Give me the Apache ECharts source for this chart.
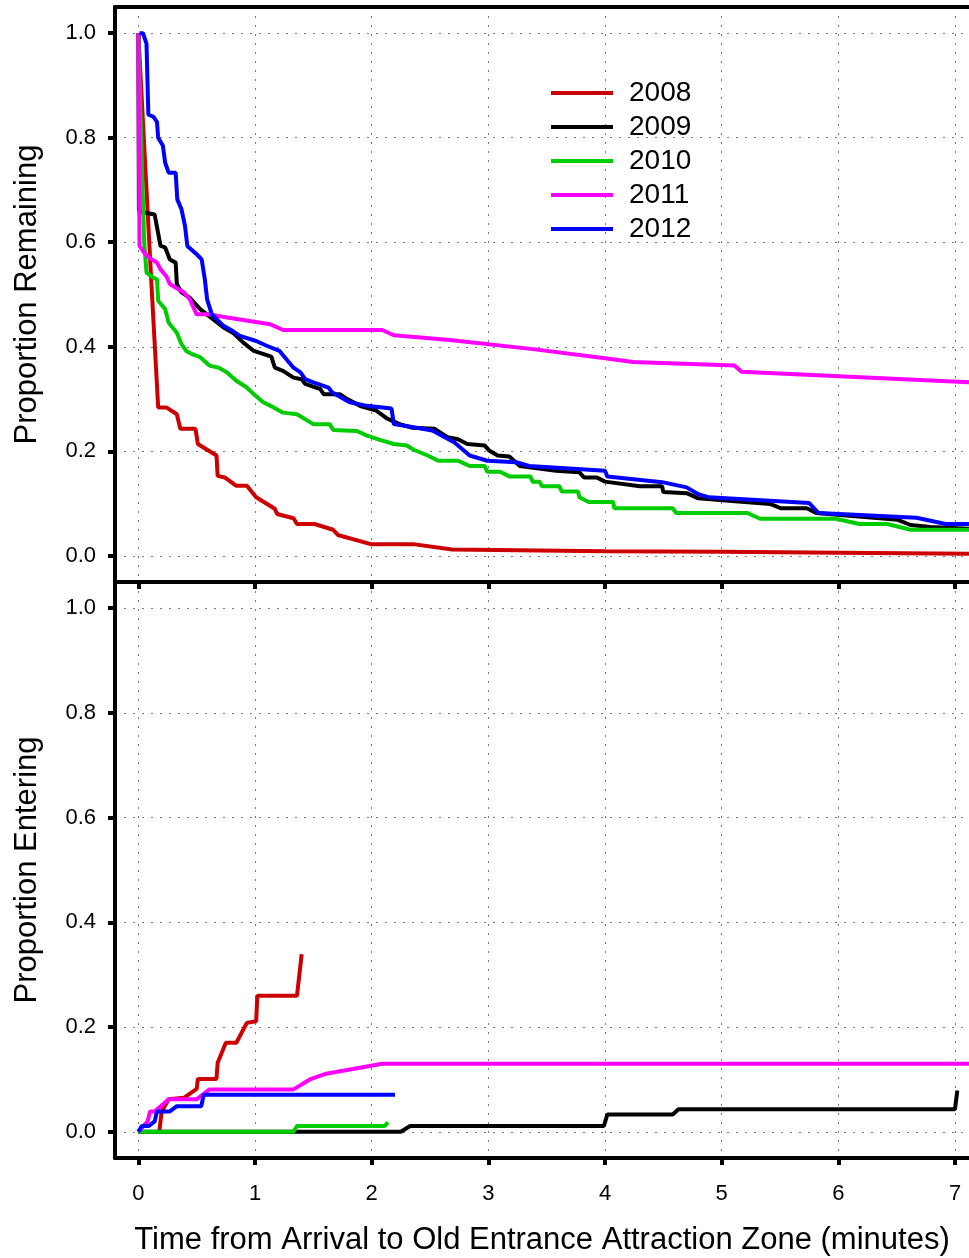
<!DOCTYPE html>
<html>
<head>
<meta charset="utf-8">
<script src="https://cdn.jsdelivr.net/npm/echarts@6/dist/echarts.min.js"></script>
<style>
html,body{margin:0;padding:0;background:#fff;}
#chart{width:969px;height:1258px;}
</style>
</head>
<body>
<div id="chart"></div>
<script>
// ---- data ----
const years = ['2008', '2009', '2010', '2011', '2012'];
const colors = ['#CC0000', '#000000', '#00CC00', '#FF00FF', '#0000FF'];
const xTicks = [0, 1, 2, 3, 4, 5, 6, 7];
const yTicks = [0, 0.2, 0.4, 0.6, 0.8, 1.0];

// Proportion Remaining (top panel)
const remain2008 = [[0,1.0],[0.11,0.53],[0.17,0.284],[0.24,0.284],[0.33,0.271],[0.36,0.243],[0.49,0.243],[0.51,0.214],[0.67,0.192],[0.68,0.153],[0.74,0.150],[0.84,0.134],[0.93,0.134],[1.01,0.112],[1.17,0.09],[1.19,0.080],[1.33,0.072],[1.36,0.061],[1.51,0.061],[1.67,0.05],[1.71,0.040],[2.0,0.022],[2.37,0.022],[2.69,0.012],[4,0.009],[5,0.008],[6,0.006],[7.12,0.004]];
const remain2009 = [[0,1.0],[0.005,0.66],[0.07,0.656],[0.14,0.653],[0.19,0.593],[0.23,0.59],[0.27,0.567],[0.32,0.561],[0.33,0.52],[0.37,0.504],[0.44,0.494],[0.53,0.472],[0.73,0.437],[0.81,0.427],[0.90,0.408],[0.99,0.392],[1.14,0.381],[1.17,0.36],[1.24,0.354],[1.33,0.341],[1.40,0.338],[1.43,0.329],[1.56,0.319],[1.59,0.309],[1.73,0.309],[1.79,0.30],[1.91,0.286],[2.04,0.278],[2.13,0.263],[2.24,0.252],[2.35,0.245],[2.54,0.243],[2.65,0.227],[2.74,0.223],[2.82,0.214],[2.97,0.211],[3.01,0.201],[3.08,0.192],[3.18,0.190],[3.27,0.172],[3.58,0.163],[3.78,0.160],[3.82,0.150],[3.93,0.150],[4.00,0.142],[4.30,0.133],[4.49,0.133],[4.50,0.122],[4.70,0.120],[4.80,0.110],[5.14,0.104],[5.42,0.099],[5.51,0.091],[5.73,0.091],[5.81,0.082],[6.51,0.069],[6.62,0.059],[6.79,0.055],[7.12,0.052]];
const remain2010 = [[0,1.0],[0.03,0.75],[0.05,0.60],[0.07,0.542],[0.13,0.532],[0.16,0.529],[0.17,0.488],[0.23,0.472],[0.26,0.446],[0.33,0.427],[0.37,0.405],[0.41,0.392],[0.46,0.386],[0.53,0.38],[0.61,0.364],[0.69,0.36],[0.76,0.351],[0.84,0.335],[0.93,0.322],[0.99,0.309],[1.07,0.294],[1.16,0.284],[1.24,0.274],[1.36,0.271],[1.50,0.252],[1.64,0.252],[1.67,0.241],[1.87,0.239],[1.96,0.23],[2.07,0.222],[2.19,0.214],[2.30,0.211],[2.36,0.203],[2.48,0.192],[2.57,0.182],[2.74,0.182],[2.84,0.172],[2.97,0.172],[2.99,0.161],[3.10,0.161],[3.18,0.152],[3.36,0.152],[3.38,0.142],[3.44,0.142],[3.46,0.133],[3.61,0.133],[3.63,0.123],[3.77,0.123],[3.78,0.112],[3.86,0.103],[4.07,0.103],[4.08,0.091],[4.58,0.091],[4.61,0.082],[5.22,0.082],[5.33,0.071],[5.98,0.071],[6.18,0.061],[6.42,0.061],[6.62,0.050],[7.12,0.050]];
const remain2011 = [[0,1.0],[0.01,0.593],[0.07,0.574],[0.16,0.561],[0.19,0.548],[0.24,0.535],[0.27,0.52],[0.39,0.504],[0.44,0.491],[0.50,0.462],[0.61,0.462],[0.76,0.456],[1.13,0.443],[1.24,0.432],[2.09,0.432],[2.19,0.422],[2.67,0.413],[3.40,0.395],[4.0,0.378],[4.24,0.371],[5.11,0.364],[5.17,0.352],[7.12,0.332]];
const remain2012 = [[0.01,1.0],[0.04,1.0],[0.07,0.98],[0.086,0.844],[0.13,0.84],[0.16,0.83],[0.17,0.80],[0.21,0.785],[0.23,0.752],[0.26,0.733],[0.32,0.733],[0.334,0.682],[0.37,0.663],[0.40,0.631],[0.42,0.593],[0.50,0.577],[0.543,0.567],[0.57,0.529],[0.59,0.49],[0.63,0.462],[0.73,0.44],[0.81,0.43],[0.87,0.421],[1.01,0.411],[1.10,0.402],[1.21,0.392],[1.33,0.36],[1.39,0.351],[1.43,0.338],[1.50,0.332],[1.63,0.322],[1.66,0.313],[1.81,0.294],[1.96,0.287],[2.17,0.282],[2.19,0.252],[2.36,0.246],[2.52,0.240],[2.71,0.217],[2.84,0.192],[2.99,0.182],[3.24,0.179],[3.35,0.172],[4.00,0.163],[4.02,0.152],[4.49,0.141],[4.70,0.131],[4.80,0.118],[4.89,0.112],[5.75,0.101],[5.83,0.082],[6.67,0.073],[6.92,0.061],[7.12,0.061]];

// Proportion Entering (bottom panel)
const enter2008 = [[0.18,0.0],[0.20,0.039],[0.26,0.062],[0.39,0.065],[0.50,0.082],[0.51,0.101],[0.67,0.101],[0.68,0.132],[0.75,0.170],[0.84,0.170],[0.93,0.208],[1.01,0.211],[1.02,0.260],[1.36,0.260],[1.40,0.339]];
const enter2009 = [[0,0],[2.25,0],[2.33,0.011],[3.99,0.011],[4.02,0.033],[4.58,0.033],[4.63,0.043],[7.0,0.043],[7.02,0.079]];
const enter2010 = [[0,0],[1.33,0],[1.36,0.011],[2.11,0.011],[2.14,0.018]];
const enter2011 = [[0,0],[0.08,0.02],[0.10,0.039],[0.14,0.039],[0.26,0.062],[0.50,0.062],[0.61,0.081],[1.33,0.081],[1.47,0.10],[1.61,0.111],[2.09,0.13],[7.12,0.13]];
const enter2012 = [[0,0],[0.03,0.011],[0.09,0.011],[0.14,0.02],[0.16,0.039],[0.27,0.039],[0.33,0.049],[0.54,0.049],[0.56,0.071],[2.20,0.071]];

const remainData = [remain2008, remain2009, remain2010, remain2011, remain2012];
const enterData = [enter2008, enter2009, enter2010, enter2011, enter2012];

// ---- chart ----
const FONT = 'Liberation Sans, Arial, sans-serif';
const gridLine = {show: true, lineStyle: {color: '#777', type: [2, 7], width: 1}};
const axisLineStyle = {show: true, onZero: false, lineStyle: {color: '#000', width: 4}};
const tickStyle = {show: true, inside: false, length: 7, lineStyle: {color: '#000', width: 4}};

function xAxisFor(gridIndex, withLabels) {
  return {
    type: 'value', gridIndex: gridIndex, min: -0.2, max: 7.12, position: 'bottom',
    axisLine: axisLineStyle,
    axisTick: Object.assign({customValues: xTicks}, tickStyle),
    axisLabel: withLabels ? {show: true, customValues: xTicks, margin: 25, color: '#000', fontFamily: FONT, fontSize: 22} : {show: false},
    splitLine: gridLine,
    name: withLabels ? 'Time from Arrival to Old Entrance Attraction Zone (minutes)' : '',
    nameLocation: 'middle', nameGap: 67,
    nameTextStyle: {color: '#000', fontFamily: FONT, fontSize: 31}
  };
}
function yAxisFor(gridIndex, name) {
  return {
    type: 'value', gridIndex: gridIndex, min: -0.05, max: 1.05,
    axisLine: axisLineStyle,
    axisTick: Object.assign({customValues: yTicks}, tickStyle),
    axisLabel: {show: true, customValues: yTicks, margin: 19, color: '#000', fontFamily: FONT, fontSize: 22,
      formatter: v => v.toFixed(1)},
    splitLine: gridLine,
    name: name, nameLocation: 'middle', nameGap: 72, nameRotate: 90,
    nameTextStyle: {color: '#000', fontFamily: FONT, fontSize: 31}
  };
}

const series = [];
years.forEach((y, i) => {
  series.push({name: y, type: 'line', xAxisIndex: 0, yAxisIndex: 0, data: remainData[i],
    symbol: 'none', showSymbol: false, lineStyle: {color: colors[i], width: 4}, itemStyle: {color: colors[i]}, z: 3 + i});
});
years.forEach((y, i) => {
  series.push({name: y, type: 'line', xAxisIndex: 2, yAxisIndex: 1, data: enterData[i],
    symbol: 'none', showSymbol: false, lineStyle: {color: colors[i], width: 4}, itemStyle: {color: colors[i]}, z: 3 + i});
});

const option = {
  animation: false,
  backgroundColor: '#fff',
  grid: [
    {left: 115, right: 0, top: 7, height: 575},
    {left: 115, right: 0, top: 582, height: 576}
  ],
  legend: {
    data: years, orient: 'vertical', left: 551, top: 76, padding: 0, itemGap: 0,
    icon: 'rect', itemWidth: 62, itemHeight: 4, selectedMode: false,
    textStyle: {color: '#000', fontFamily: FONT, fontSize: 28, lineHeight: 34, padding: [0, 0, 0, 11]}
  },
  xAxis: [
    xAxisFor(0, false),
    {type: 'value', gridIndex: 0, min: -0.2, max: 7.12, position: 'top',
      axisLine: axisLineStyle, axisTick: {show: false}, axisLabel: {show: false}, splitLine: {show: false}},
    xAxisFor(1, true)
  ],
  yAxis: [
    yAxisFor(0, 'Proportion Remaining'),
    yAxisFor(1, 'Proportion Entering')
  ],
  series: series
};

const chart = echarts.init(document.getElementById('chart'), null, {renderer: 'canvas'});
chart.setOption(option);
</script>
</body>
</html>
